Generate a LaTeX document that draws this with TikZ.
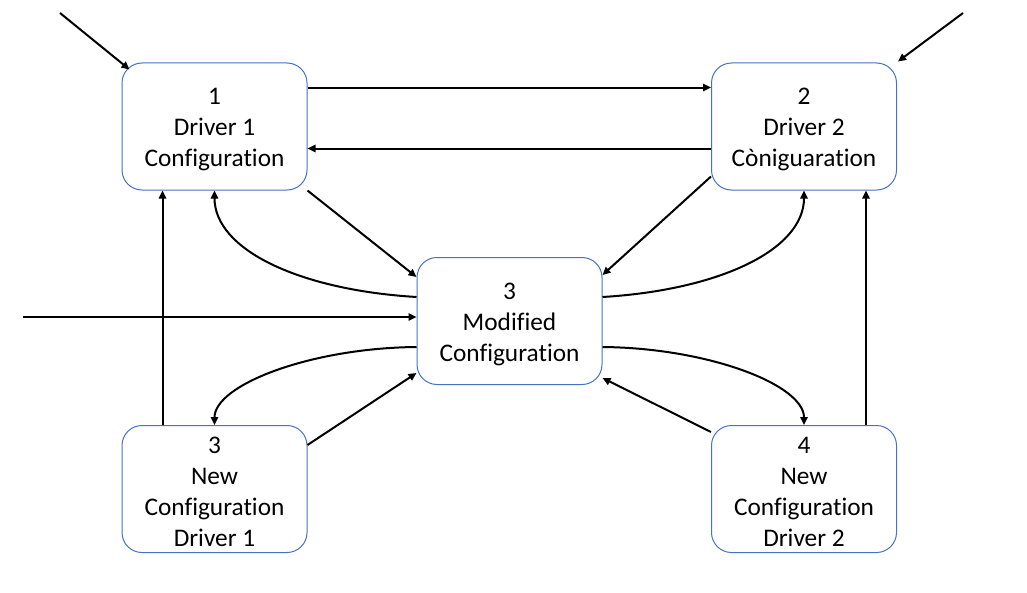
\documentclass[tikz,border=0pt]{standalone}
\usepackage{fontspec}
\setmainfont{Carlito}[Ligatures=NoCommon]
\usetikzlibrary{arrows.meta,calc}
\definecolor{boxblue}{HTML}{4472C4}
\newcommand\topsp{\rule{0pt}{17pt}}
\begin{document}
\begin{tikzpicture}[x=0.75pt,y=0.75pt,
  box/.style={draw=boxblue,line width=0.75pt,rounded corners=15pt,
    minimum width=138.75pt,minimum height=95.25pt,align=center,
    font=\fontsize{19}{23.3}\selectfont,inner sep=0pt},
  conn/.style={line width=1.5pt,-{Triangle[length=6pt,width=5.5pt]}}]
\useasboundingbox (0,0) rectangle (1027,-592);
\node[box] (b1) at (214.5,-126.5) {\topsp 1\\Driver 1\\Configuration};
\node[box] (b2) at (804,-126.5) {\topsp 2\\Driver 2\\Còniguaration};
\node[box] (b3) at (509.5,-321) {\topsp 3\\Modified\\Configuration};
\node[box] (b4) at (214.5,-489) {\topsp 3\\New\\Configuration\\Driver 1};
\node[box] (b5) at (804,-489) {\topsp 4\\New\\Configuration\\Driver 2};
\coordinate (s1) at (60,-13);
\coordinate (s2) at (963,-13);
\coordinate (s3) at (23,-317);
\draw[conn] (s1) -- ($(b1.north west)+(8,-7)$);
\draw[conn] (s2) -- ($(b2.north east)+(1,1)$);
\draw[conn] (s3) -- (s3 -| b3.west);
\draw[conn] ($(b1.north east)+(0,-25)$) -- ($(b2.north west)+(0,-25)$);
\draw[conn] ($(b2.north west)+(0,-86)$) -- ($(b1.north east)+(0,-86)$);
\draw[conn] (b1.south east) -- ($(b3.north west)+(0,-20)$);
\draw[conn] ($(b2.south west)+(0,14)$) -- ($(b3.north east)+(0,-18)$);
\draw[conn] ($(b3.north west)+(0,-40)$) .. controls (300,-290) and (214.5,-250) .. (b1.south);
\draw[conn] ($(b3.north east)+(0,-40)$) .. controls (719,-290) and (804,-250) .. (b2.south);
\draw[conn] ($(b3.south west)+(0,38)$) .. controls (310,-348) and (214.5,-385) .. (b4.north);
\draw[conn] ($(b3.south east)+(0,38)$) .. controls (709,-348) and (804,-385) .. (b5.north);
\draw[conn] ($(b4.north east)+(0,-20)$) -- ($(b3.south west)+(0,12)$);
\draw[conn] ($(b5.north west)+(0,-7)$) -- ($(b3.south east)+(0,7)$);
\draw[conn] ($(b4.north west)+(41,0)$) -- ($(b1.south west)+(41,0)$);
\draw[conn] ($(b5.north east)+(-31,0)$) -- ($(b2.south east)+(-31,0)$);
\end{tikzpicture}
\end{document}
